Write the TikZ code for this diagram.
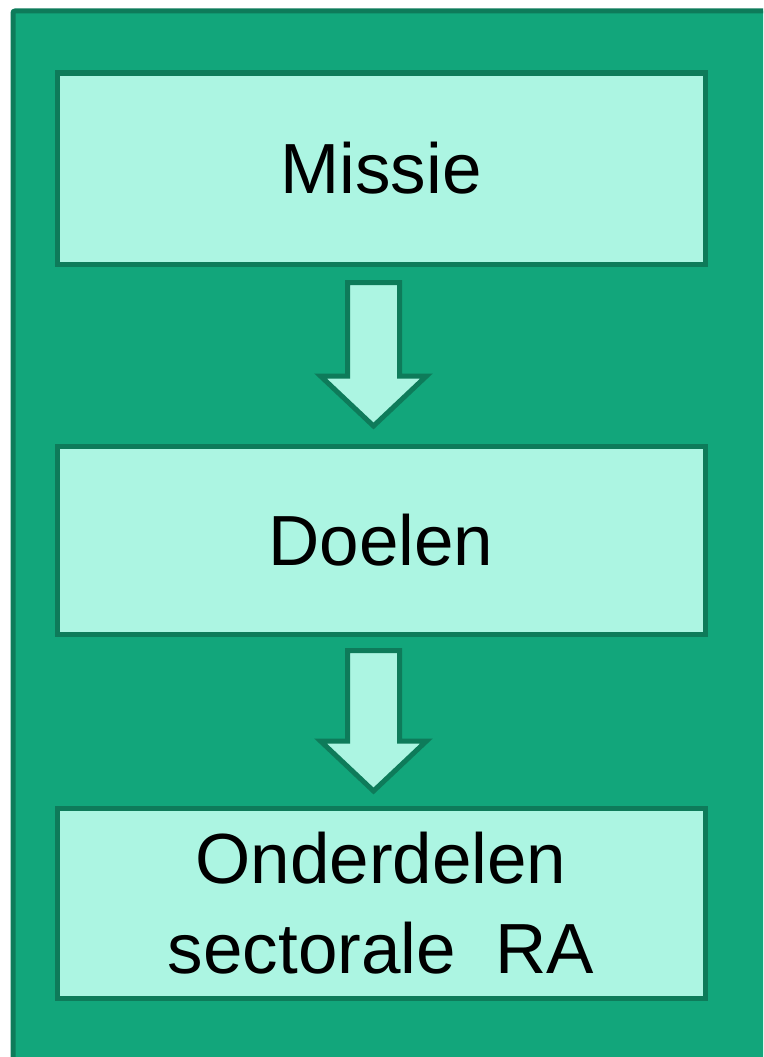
\documentclass[tikz,border=0pt]{standalone}
\usepackage{fontspec}
\setmainfont{Liberation Sans}
\definecolor{bgreen}{HTML}{12A67B}
\definecolor{dgreen}{HTML}{0E7B5A}
\definecolor{lgreen}{HTML}{ACF5E2}
\tikzset{
  box/.style={draw=dgreen, fill=lgreen, line width=5pt, minimum width=648pt,
    inner sep=0pt, font=\fontsize{71}{90}\selectfont, text=black, align=center},
  barrow/.style={draw=dgreen, fill=lgreen, line width=5pt, line join=miter},
  frame/.style={draw=dgreen, fill=bgreen, line width=5pt}
}
\newcommand\myblockarrow[3]{%
  \draw[barrow] (#1-26,#2) -- (#1+26,#2) -- (#1+26,#3-50) -- (#1+53,#3-50)
    -- (#1,#3) -- (#1-53,#3-50) -- (#1-26,#3-50) -- cycle;}
\begin{document}
\begin{tikzpicture}[x=1pt,y=-1pt]
\useasboundingbox (0,0) rectangle (763,1057);
\begin{scope}
\clip (0,0) rectangle (763,1057);
\draw[frame, rounded corners=2pt] (13,11) rectangle (820,1120);
\end{scope}
\node[box, minimum height=191pt] (missie) at (381,168.5) {Missie};
\node[box, minimum height=188pt] (doelen) at (381,540) {Doelen};
\node[box, minimum height=190pt] (onder) at (381,903) {Onderdelen\\sectorale\ \ RA};
\myblockarrow{373.5}{282.5}{426}
\myblockarrow{373.5}{650.5}{791}
\end{tikzpicture}
\end{document}
